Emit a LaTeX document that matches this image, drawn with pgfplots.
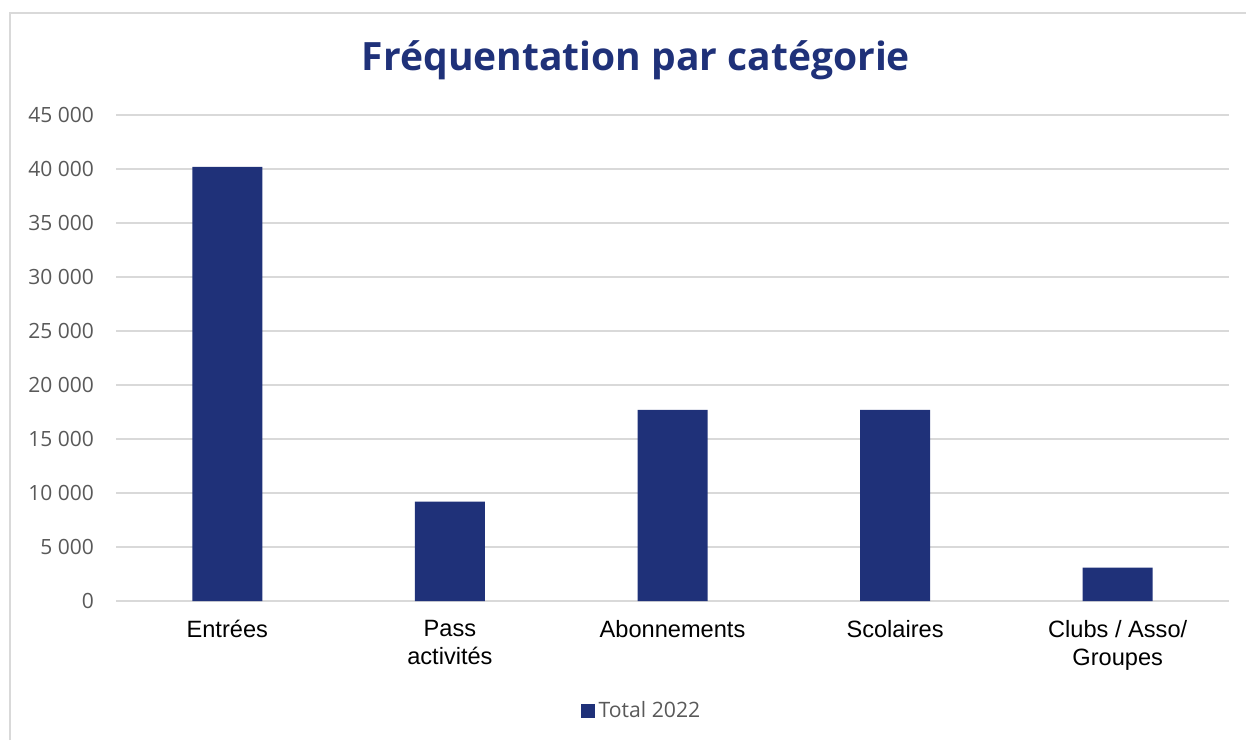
\documentclass[border=0pt]{standalone}
\usepackage{fontspec}
\setmainfont{Open Sans}
\newfontfamily\arialfont{Liberation Sans}
\usepackage{pgfplots}
\pgfplotsset{compat=1.18}
\definecolor{barblue}{RGB}{31,49,121}
\definecolor{gridgray}{RGB}{217,217,217}
\definecolor{ticktext}{RGB}{89,89,89}
\begin{document}
\begin{tikzpicture}
\useasboundingbox (0,0) rectangle (623pt,370pt);
\draw[gridgray, line width=1pt] (5pt,0pt) -- (5pt,363.5pt) -- (623pt,363.5pt);
\node[font=\bfseries\fontsize{19.5}{22}\selectfont, text=barblue] at (318pt,340pt) {Fréquentation par catégorie};
\begin{axis}[
  at={(58pt,69.5pt)}, anchor=south west,
  width=556.5pt, height=243pt, scale only axis,
  xmin=-0.5, xmax=4.5, ymin=0, ymax=45000,
  axis line style={draw=none},
  ybar, bar width=35pt,
  scaled y ticks=false,
  ytick={0,5000,...,45000},
  yticklabels={0,5 000,10 000,15 000,20 000,25 000,30 000,35 000,40 000,45 000},
  yticklabel style={font=\fontsize{10.5}{12}\selectfont, text=ticktext, anchor=east, xshift=-7.5pt},
  xtick={0,1,2,3,4},
  xticklabels={Entrées,Pass\\activités,Abonnements,Scolaires,Clubs / Asso/\\Groupes},
  xticklabel style={font=\arialfont\fontsize{11.8}{14}\selectfont, align=center, text=black, anchor=north, yshift=-6pt},
  major tick length=0pt,
  ymajorgrids, grid style={gridgray, line width=1pt},
  legend style={at={(rel axis cs:0.473,-0.226)}, anchor=center, draw=none, fill=none,
    font=\fontsize{10.6}{12}\selectfont, text=ticktext, inner sep=0pt},
  legend image code/.code={\fill[barblue] (0pt,-3.5pt) rectangle (7pt,3.5pt);},
  legend cell align=left,
]
\addplot[fill=barblue, draw=none] coordinates {(0,40200) (1,9200) (2,17700) (3,17700) (4,3100)};
\addlegendentry{Total 2022}
\end{axis}
\end{tikzpicture}
\end{document}
